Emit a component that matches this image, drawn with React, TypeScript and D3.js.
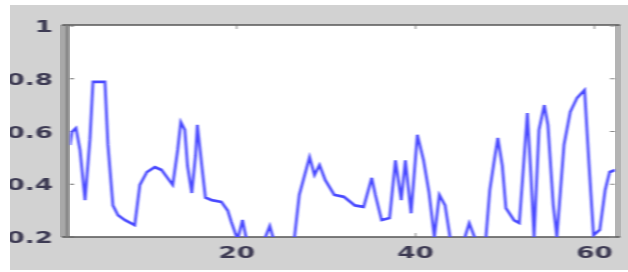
import React from "react";
import * as d3 from "d3";

// turning points (x in sample units, y in value)
const sampleX = [
  1.36, 1.58, 2.03, 2.48, 3.04, 3.59, 3.93, 5.27, 5.6, 6.16, 6.72, 7.5, 8.6, 9.17, 9.95, 10.85,
  11.6, 12.85, 13.4, 13.75, 14.2, 14.5, 14.98, 15.4, 15.6, 16.1, 16.5, 17.2, 18.3, 19.0, 19.4,
  20.1, 20.65, 21.1, 22, 23.1, 23.7, 24.3, 25.4, 26.45, 27.0, 27.6, 28.15, 28.7, 29.26, 29.9,
  30.9, 32.0, 33.2, 34.2, 35.1, 35.5, 36.2, 37.1, 37.75, 38.4, 38.86, 39.5, 40.2, 40.9, 41.5,
  42.1, 42.66, 43.3, 43.9, 44.9, 46.0, 46.7, 47.7, 48.3, 48.8, 49.2, 49.7, 50.1, 51.0, 51.6,
  52.0, 52.5, 52.9, 53.25, 53.8, 54.4, 54.8, 55.4, 55.8, 56.6, 57.3, 58.05, 58.9, 59.4, 59.9,
  60.6, 61.2, 61.7, 62.3,
];
const sampleY = [
  0.549, 0.598, 0.613, 0.53, 0.34, 0.57, 0.788, 0.788, 0.55, 0.32, 0.283, 0.264, 0.245, 0.397,
  0.446, 0.465, 0.454, 0.397, 0.53, 0.636, 0.606, 0.47, 0.367, 0.51, 0.625, 0.47, 0.35, 0.34,
  0.333, 0.3, 0.257, 0.19, 0.264, 0.19, 0.15, 0.19, 0.242, 0.17, 0.11, 0.196, 0.36, 0.435,
  0.503, 0.435, 0.473, 0.416, 0.36, 0.352, 0.32, 0.314, 0.424, 0.36, 0.264, 0.272, 0.49, 0.34,
  0.49, 0.29, 0.587, 0.49, 0.37, 0.2, 0.36, 0.32, 0.19, 0.13, 0.253, 0.19, 0.13, 0.378, 0.49,
  0.575, 0.47, 0.31, 0.264, 0.253, 0.435, 0.67, 0.435, 0.2, 0.606, 0.7, 0.625, 0.32, 0.2, 0.55,
  0.674, 0.727, 0.757, 0.473, 0.207, 0.227, 0.378, 0.446, 0.454,
];
const xTicks = [20, 40, 60];
const yTicks = [0.2, 0.4, 0.6, 0.8, 1];
const yTickLabels = ["0.2", "0.4", "0.6", "0.8", "1"];

const W = 628;
const H = 272;
const left = 70;
const right = 615;
const top = 25;
const bottom = 237;

export default function App() {
  const x = d3.scaleLinear().domain([1.36, 62.3]).range([left, right]);
  const y = d3.scaleLinear().domain([0.2, 1]).range([bottom, top + 1]);
  const pts: [number, number][] = sampleX.map((v, i) => [v, sampleY[i]]);
  const line = d3
    .line<[number, number]>()
    .x((d) => x(d[0]))
    .y((d) => y(d[1]));

  const labelFont = {
    fontFamily: "DejaVu Sans",
    fontWeight: 700,
    fontSize: 15,
    fill: "#3d3a52",
  };

  return (
    <svg
      width={W}
      height={H}
      style={{ position: "absolute", left: 0, top: 0 }}
    >
      <defs>
        <clipPath id="plot">
          <rect x={left} y={top} width={right - left} height={bottom - top} />
        </clipPath>
        <filter id="soft" x="-5%" y="-5%" width="110%" height="110%">
          <feGaussianBlur stdDeviation="1.1 0.7" />
        </filter>
      </defs>
      <rect width={W} height={H} fill="#ffffff" />
      <rect x={10} y={5} width={W - 10} height={265} fill="#d2d2d2" />
      <rect x={60} y={top} width={left - 60} height={bottom - top} fill="#a8a8a8" />
      <rect x={right} y={top} width={6} height={bottom - top} fill="#b4b4b4" />
      <rect x={left} y={top} width={right - left} height={bottom - top} fill="#ffffff" />

      <g filter="url(#soft)">
        <line x1={62} x2={right + 5} y1={top} y2={top} stroke="#555" strokeWidth={1.5} />
        <line x1={62} x2={right + 5} y1={bottom} y2={bottom} stroke="#555" strokeWidth={1.5} />
        <line x1={67} x2={67} y1={top} y2={bottom} stroke="#777" strokeWidth={2} />

        {xTicks.map((t) => (
          <g key={t}>
            <line x1={x(t)} x2={x(t)} y1={top} y2={top + 4} stroke="#666" />
            <line x1={x(t)} x2={x(t)} y1={bottom} y2={bottom - 4} stroke="#666" />
          </g>
        ))}
        {yTicks.map((t) => (
          <g key={t}>
            <line x1={left} x2={left + 4} y1={y(t)} y2={y(t)} stroke="#666" />
            <line x1={right} x2={right - 5} y1={y(t)} y2={y(t)} stroke="#888" />
          </g>
        ))}

        <g clipPath="url(#plot)">
          <path
            d={line(pts) ?? ""}
            fill="none"
            stroke="#4a4aff"
            strokeWidth={2.8}
            strokeLinejoin="miter"
          />
        </g>

        {yTicks.map((t, i) => (
          <text
            key={t}
            transform={`translate(53,${y(t) + 6}) scale(1.75,1)`}
            textAnchor="end"
            {...labelFont}
          >
            {yTickLabels[i]}
          </text>
        ))}
        {xTicks.map((t) => (
          <text
            key={t}
            transform={`translate(${x(t)},${258}) scale(1.75,1)`}
            textAnchor="middle"
            {...labelFont}
          >
            {t}
          </text>
        ))}
      </g>
      <rect x={0} y={0} width={10} height={H} fill="#ffffff" />
    </svg>
  );
}
